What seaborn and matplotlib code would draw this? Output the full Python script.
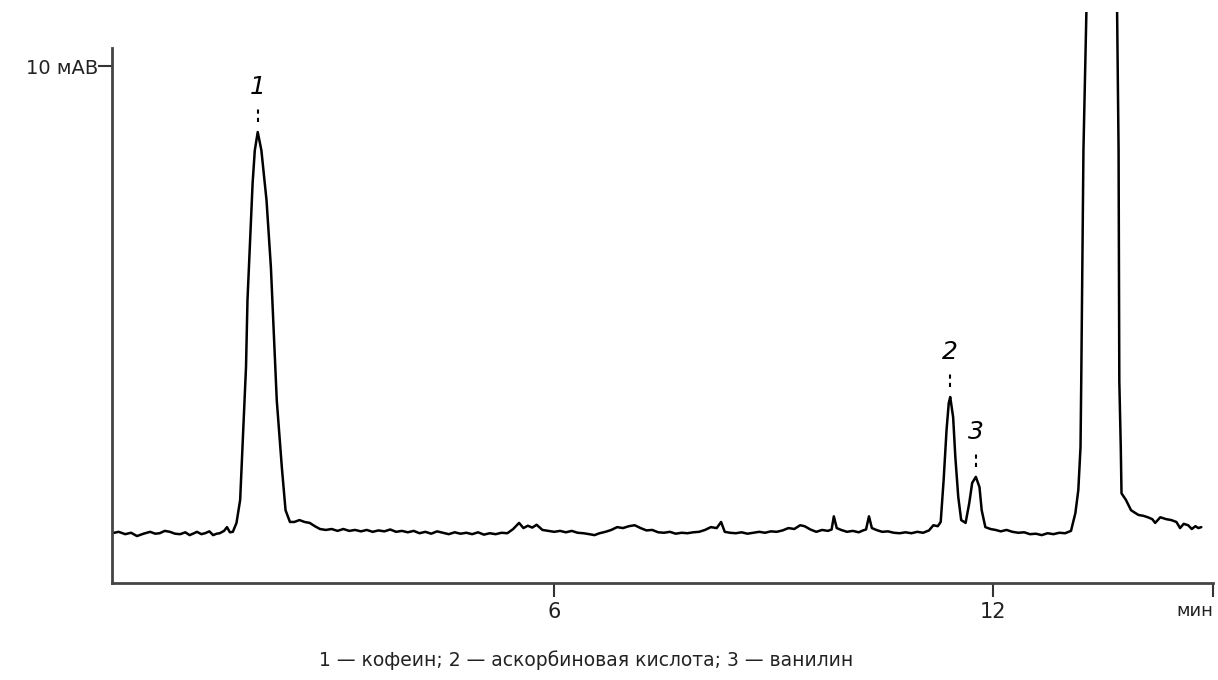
import numpy as np
import pandas as pd
import seaborn as sns
import matplotlib.pyplot as plt

sns.set_theme(style="ticks")
plt.rcParams["font.family"] = ["DejaVu Sans"]

# baseline before peak 1 (time in min, signal in mAU)
t_start = [-0.04, 0.05, 0.14, 0.22, 0.30, 0.39, 0.48, 0.55, 0.61, 0.68, 0.75, 0.82, 0.89,
           0.96, 1.02, 1.08, 1.12, 1.18, 1.23, 1.29, 1.34, 1.39, 1.43, 1.49, 1.53, 1.57, 1.61]
s_start = [0.06, 0.09, 0.04, 0.07, 0.00, 0.05, 0.09, 0.05, 0.06, 0.11, 0.09, 0.05, 0.04,
           0.08, 0.02, 0.06, 0.09, 0.04, 0.06, 0.10, 0.02, 0.05, 0.06, 0.11, 0.19, 0.08, 0.09]

# peak 1 - caffeine
t_peak1 = [1.66, 1.71, 1.75, 1.79, 1.81, 1.85, 1.88, 1.91, 1.95, 2.00, 2.07, 2.13, 2.17,
           2.21, 2.28, 2.33, 2.39]
s_peak1 = [0.28, 0.77, 2.19, 3.60, 5.02, 6.45, 7.51, 8.21, 8.60, 8.21, 7.15, 5.72, 4.32,
           2.89, 1.45, 0.55, 0.30]

# baseline between peak 1 and peak 2
t_mid = [2.45, 2.52, 2.59, 2.66, 2.73, 2.80, 2.88, 2.96, 3.04, 3.12,
         3.20, 3.28, 3.36, 3.44, 3.52, 3.60, 3.68, 3.76, 3.84, 3.92,
         4.00, 4.08, 4.16, 4.24, 4.32, 4.40, 4.48, 4.56, 4.64, 4.72,
         4.80, 4.88, 4.96, 5.04, 5.12, 5.20, 5.28, 5.36, 5.44, 5.52,
         5.58, 5.64, 5.70, 5.76, 5.84, 5.92, 6.00, 6.08, 6.16, 6.24,
         6.32, 6.40, 6.48, 6.55, 6.62, 6.70, 6.78, 6.86, 6.94, 7.02,
         7.10, 7.18, 7.26, 7.34, 7.42, 7.50, 7.58, 7.66, 7.74, 7.82,
         7.90, 7.98, 8.06, 8.14, 8.22, 8.28, 8.33, 8.40, 8.48, 8.56,
         8.64, 8.72, 8.80, 8.88, 8.96, 9.04, 9.12, 9.20, 9.28, 9.36,
         9.42, 9.50, 9.58, 9.66, 9.74, 9.79, 9.82, 9.86, 9.92, 10.00,
         10.08, 10.16, 10.22, 10.26, 10.30, 10.34, 10.40, 10.48, 10.56, 10.64,
         10.72, 10.80, 10.88, 10.96, 11.04, 11.12, 11.18, 11.24]
s_mid = [0.30, 0.34, 0.30, 0.28, 0.21, 0.15, 0.13, 0.15, 0.11, 0.15,
         0.11, 0.13, 0.10, 0.13, 0.09, 0.12, 0.10, 0.14, 0.09, 0.11,
         0.08, 0.11, 0.06, 0.09, 0.05, 0.10, 0.07, 0.04, 0.08, 0.05,
         0.07, 0.04, 0.08, 0.03, 0.06, 0.04, 0.07, 0.06, 0.15, 0.28,
         0.17, 0.22, 0.18, 0.24, 0.13, 0.11, 0.09, 0.11, 0.08, 0.11,
         0.07, 0.06, 0.04, 0.02, 0.06, 0.09, 0.13, 0.19, 0.17, 0.21,
         0.23, 0.17, 0.12, 0.13, 0.08, 0.07, 0.09, 0.05, 0.07, 0.06,
         0.08, 0.09, 0.13, 0.19, 0.17, 0.30, 0.09, 0.07, 0.06, 0.08,
         0.05, 0.07, 0.09, 0.07, 0.10, 0.09, 0.12, 0.17, 0.15, 0.23,
         0.21, 0.14, 0.09, 0.13, 0.11, 0.14, 0.42, 0.17, 0.13, 0.09,
         0.11, 0.08, 0.12, 0.14, 0.42, 0.17, 0.13, 0.09, 0.10, 0.07,
         0.06, 0.08, 0.06, 0.09, 0.07, 0.12, 0.23, 0.21]

# peaks 2 and 3 - ascorbic acid, vanillin
t_peak23 = [11.28, 11.32, 11.36, 11.39, 11.41, 11.45, 11.48, 11.52, 11.56, 11.62, 11.67,
            11.71, 11.76, 11.81, 11.84, 11.89, 11.96, 12.03]
s_peak23 = [0.30, 1.19, 2.26, 2.83, 2.96, 2.53, 1.68, 0.83, 0.34, 0.28, 0.70,
            1.13, 1.26, 1.04, 0.55, 0.19, 0.15, 0.13]

t_pre = [12.10, 12.18, 12.26, 12.34, 12.42, 12.50, 12.58, 12.66, 12.74, 12.82, 12.90,
         12.98, 13.06, 13.12]
s_pre = [0.10, 0.13, 0.09, 0.07, 0.08, 0.04, 0.05, 0.02, 0.06, 0.04, 0.07,
         0.06, 0.11, 0.49]

# large off-scale peak and its tail
t_big = [13.16, 13.19, 13.20, 13.23, 13.27, 13.45, 13.69, 13.71, 13.72, 13.74, 13.75,
         13.81, 13.88, 13.98, 14.05, 14.11, 14.17, 14.21, 14.28, 14.36, 14.43, 14.50,
         14.55, 14.60, 14.66, 14.71, 14.76, 14.80, 14.84]
s_big = [0.98, 1.89, 3.30, 8.21, 11.13, 60.0, 11.13, 8.21, 3.30, 1.89, 0.91,
         0.77, 0.55, 0.45, 0.43, 0.40, 0.36, 0.28, 0.40, 0.36, 0.34, 0.30,
         0.17, 0.26, 0.23, 0.15, 0.21, 0.17, 0.19]

peak_labels = ["1", "2", "3"]
peak_times = [1.95, 11.41, 11.76]
peak_heights = [8.60, 2.96, 1.26]

x_ticks = [6, 12, 15]
x_tick_labels = ["6", "12", "мин"]
y_ticks = [10]
y_tick_labels = ["10 мАВ"]

caption = "1 — кофеин; 2 — аскорбиновая кислота; 3 — ванилин"

df = pd.DataFrame({
    "time": t_start + t_peak1 + t_mid + t_peak23 + t_pre + t_big,
    "signal": s_start + s_peak1 + s_mid + s_peak23 + s_pre + s_big,
})

fig = plt.figure(figsize=(12.18, 6.8), dpi=100)
ax = fig.add_axes([0.092, 0.1426, 0.9039, 0.8394])

sns.lineplot(data=df, x="time", y="signal", color="black", linewidth=1.8,
             estimator=None, sort=False, ax=ax)

ax.set_xlim(-0.04, 15.0)
ax.set_ylim(-1.0, 11.15)

ax.set_xticks(x_ticks)
ax.set_xticklabels(x_tick_labels)
ax.set_yticks(y_ticks)
ax.set_yticklabels(y_tick_labels)
ax.set_xlabel("")
ax.set_ylabel("")

for side in ["top", "right"]:
    ax.spines[side].set_visible(False)
for side in ["left", "bottom"]:
    ax.spines[side].set_color("#444444")
    ax.spines[side].set_linewidth(2)
ax.spines["left"].set_bounds(-1.0, 10.38)

ax.tick_params(axis="both", direction="out", length=10, width=1.5, color="#333333",
               labelcolor="#222222")
ax.tick_params(axis="x", labelsize=15, pad=4)
ax.tick_params(axis="y", labelsize=14, pad=0)

# unit label at the end of the time axis sits left of its tick
unit_lab = ax.get_xticklabels()[-1]
unit_lab.set_horizontalalignment("right")
unit_lab.set_fontsize(13)

for lab, t, h in zip(peak_labels, peak_times, peak_heights):
    ax.plot([t, t], [h + 0.22, h + 0.5], color="black", linewidth=1.5,
            linestyle=(0, (2, 2)))
    ax.text(t, h + 0.95, lab, ha="center", va="center", fontsize=18,
            fontstyle="italic", color="black")

fig.text(0.481, 0.029, caption, ha="center", va="center", fontsize=13.5, color="#222222")

fig.savefig("out.png", dpi=100)
